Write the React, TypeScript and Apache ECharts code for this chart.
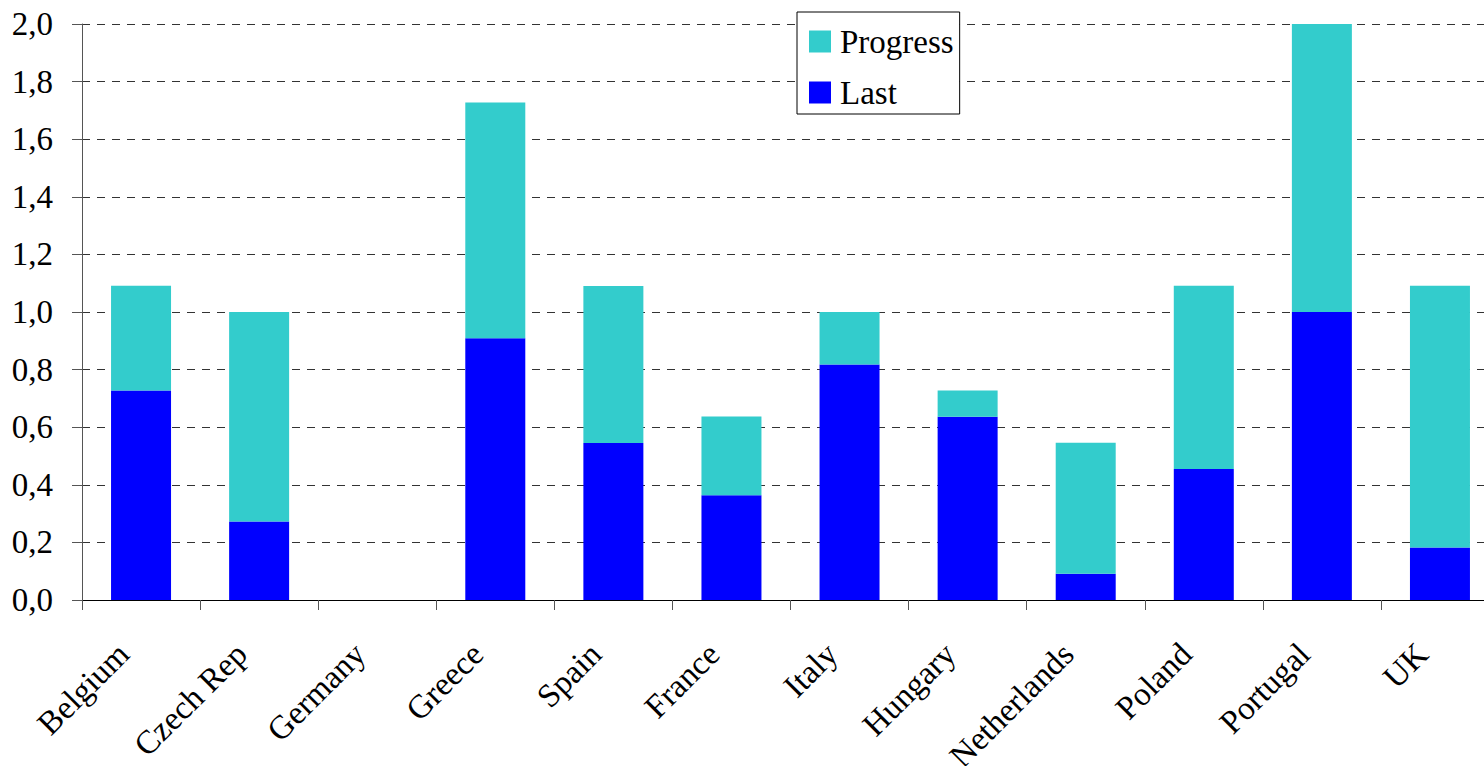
import React, { useEffect, useRef } from "react";
import * as echarts from "echarts";

const categories = ["Belgium", "Czech Rep", "Germany", "Greece", "Spain", "France", "Italy", "Hungary", "Netherlands", "Poland", "Portugal", "UK"];
const lastValues = [0.727, 0.273, 0, 0.909, 0.545, 0.364, 0.818, 0.636, 0.091, 0.455, 1.0, 0.182];
const progressValues = [0.364, 0.727, 0, 0.818, 0.545, 0.273, 0.182, 0.091, 0.455, 0.636, 1.0, 0.909];
const legendNames = ["Progress", "Last"];

const FONT = "Liberation Serif";

export default function App() {
  const ref = useRef<HTMLDivElement>(null);
  useEffect(() => {
    if (!ref.current) return;
    const chart = echarts.init(ref.current, null, { renderer: "svg" });
    chart.setOption({
      animation: false,
      backgroundColor: "#ffffff",
      textStyle: { fontFamily: FONT },
      legend: {
        data: legendNames,
        orient: "vertical",
        left: 797,
        top: 12,
        itemWidth: 22,
        itemHeight: 22,
        itemGap: 18,
        padding: [13, 6, 5, 12],
        borderColor: "#000",
        borderWidth: 1,
        backgroundColor: "#fff",
        icon: "rect",
        textStyle: { fontFamily: FONT, fontSize: 33, color: "#000", padding: [0, 0, 0, 4] },
      },
      grid: { left: 82, right: 0, top: 24, bottom: 166, containLabel: false, outerBoundsMode: "none" },
      xAxis: {
        type: "category",
        data: categories,
        axisLine: { show: true, lineStyle: { color: "#000", width: 1 } },
        axisTick: { show: true, length: 10, lineStyle: { color: "#555" } },
        axisLabel: {
          rotate: 45,
          interval: 0,
          margin: 31,
          padding: [0, 25, 0, 0],
          fontFamily: FONT,
          fontSize: 33,
          color: "#000",
        },
      },
      yAxis: {
        type: "value",
        min: 0,
        max: 2,
        interval: 0.2,
        axisLine: { show: true, lineStyle: { color: "#555", width: 1 } },
        axisTick: { show: true, length: 10, lineStyle: { color: "#555" } },
        axisLabel: {
          margin: 29,
          fontFamily: FONT,
          fontSize: 33,
          color: "#000",
          formatter: (v: number) => v.toFixed(1).replace(".", ","),
        },
        splitLine: { show: true, lineStyle: { color: "#333", type: [8, 7], width: 1 } },
      },
      series: [
        {
          name: "Last",
          type: "bar",
          stack: "total",
          data: lastValues,
          barWidth: 60,
          itemStyle: { color: "#0000ff" },
        },
        {
          name: "Progress",
          type: "bar",
          stack: "total",
          data: progressValues,
          barWidth: 60,
          itemStyle: { color: "#33cccc" },
        },
      ],
    });
    return () => chart.dispose();
  }, []);
  return (
    <div style={{ position: "fixed", left: 0, top: 0, width: 1484, height: 766, overflow: "hidden" }}>
      <div ref={ref} style={{ width: 1499, height: 766 }} />
    </div>
  );
}
